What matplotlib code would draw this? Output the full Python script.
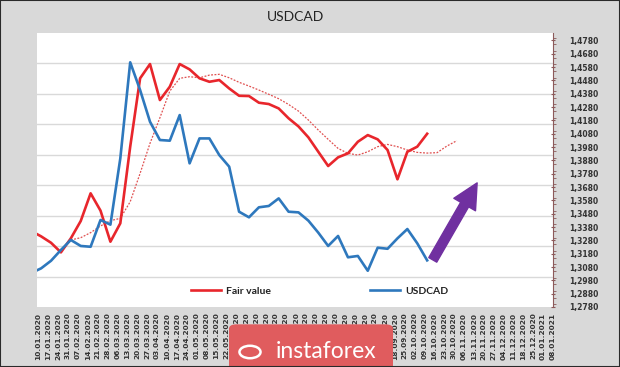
import numpy as np
import pandas as pd
import matplotlib
matplotlib.use("Agg")
import matplotlib.pyplot as plt
from matplotlib.patches import Rectangle, FancyBboxPatch, Circle
from matplotlib.ticker import FuncFormatter, MultipleLocator

# weekly points (the series are sampled a couple of days after the Friday labels)
dates = pd.date_range("2020-01-05", periods=44, freq="7D")

fair_value = [1.3350, 1.3310, 1.3262, 1.3190, 1.3295, 1.3425, 1.3633, 1.3503, 1.3270, 1.3408,
              1.3983, 1.4496, 1.4603, 1.4333, 1.4433, 1.4603, 1.4563, 1.4496, 1.4470, 1.4483,
              1.4420, 1.4365, 1.4363, 1.4313, 1.4303, 1.4270, 1.4196, 1.4135, 1.4053, 1.3945,
              1.3838, 1.3903, 1.3933, 1.4020, 1.4070, 1.4038, 1.3958, 1.3738, 1.3945, 1.3983,
              1.4080, np.nan, np.nan, np.nan]

usdcad = [1.3035, 1.3070, 1.3127, 1.3208, 1.3283, 1.3238, 1.3232, 1.3433, 1.3398, 1.3895,
          1.4616, 1.4408, 1.4170, 1.4033, 1.4028, 1.4220, 1.3858, 1.4045, 1.4045, 1.3920,
          1.3833, 1.3495, 1.3453, 1.3528, 1.3538, 1.3595, 1.3495, 1.3490, 1.3428, 1.3338,
          1.3238, 1.3313, 1.3153, 1.3163, 1.3052, 1.3225, 1.3217, 1.3295, 1.3365, 1.3258,
          1.3130, np.nan, np.nan, np.nan]

# dotted trend of the fair value
fair_trend = [np.nan, np.nan, np.nan, np.nan, 1.3283, 1.3300, 1.3338, 1.3388, 1.3428, 1.3445,
              1.3570, 1.3783, 1.4008, 1.4200, 1.4400, 1.4496, 1.4508, 1.4500, 1.4520, 1.4526,
              1.4500, 1.4466, 1.4438, 1.4408, 1.4376, 1.4343, 1.4300, 1.4250, 1.4183, 1.4108,
              1.4038, 1.3970, 1.3933, 1.3920, 1.3945, 1.3983, 1.4000, 1.3983, 1.3958, 1.3940,
              1.3935, 1.3938, 1.3988, 1.4028]

tick_dates = pd.date_range("2020-01-10", "2021-01-08", freq="7D")
tick_labels = [d.strftime("%d.%m.%Y") for d in tick_dates]

y_lo, y_hi = 1.2780, 1.4836

fig = plt.figure(figsize=(6.2, 3.67), dpi=100, facecolor="#d9d9d9")
ax = fig.add_axes([37/620, 1 - 307/367, 516/620, 274/367])
ax.set_facecolor("white")

# horizontal grid: 9 even bands of the plot area
for k in range(1, 9):
    ax.axhline(y_lo + k*(y_hi - y_lo)/9, color="#d9d9d9", lw=1, zorder=0)

ax.plot(dates, fair_trend, color="#e05050", lw=0.9, linestyle=(0, (1.5, 1.2)), zorder=2)
ax.plot(dates, fair_value, color="#e8262c", lw=1.9, label="Fair value", zorder=3)
ax.plot(dates, usdcad, color="#2e78bd", lw=1.9, label="USDCAD", zorder=3)

ax.set_xlim(pd.Timestamp("2020-01-09 02:00"), pd.Timestamp("2021-01-08"))
ax.set_ylim(y_lo, y_hi)

ax.set_xticks(tick_dates)
ax.set_xticklabels(tick_labels, rotation=90, fontsize=5.3, fontweight="bold",
                   color="#333333", va="top", ha="center")
ax.tick_params(axis="x", length=0, pad=4)

ax.yaxis.tick_right()
ax.set_yticks(np.arange(1.2780, 1.4781, 0.01))
ax.yaxis.set_minor_locator(MultipleLocator(0.005))
ax.yaxis.set_major_formatter(FuncFormatter(lambda v, p: ("%.4f" % v).replace(".", ",")))
ax.tick_params(axis="y", which="major", length=3, direction="inout", color="#8c5a5a",
               labelsize=5.5, labelcolor="#333333", pad=10)
ax.tick_params(axis="y", which="minor", length=2, direction="out", color="#8c5a5a")
for lab in ax.get_yticklabels():
    lab.set_fontweight("bold")

for s in ["top", "left", "bottom"]:
    ax.spines[s].set_visible(False)
ax.spines["right"].set_color("#8c5a5a")
ax.spines["right"].set_linewidth(0.8)

leg = ax.legend(loc="center", bbox_to_anchor=(0.548, 0.058), ncol=2, frameon=False,
                handlelength=2.9, handletextpad=0.5, columnspacing=9.5,
                prop={"family": "Lato", "weight": "bold", "size": 7.5})
for t in leg.get_texts():
    t.set_color("#222222")

fig.text(0.476, 0.954, "USDCAD", ha="center", va="center", fontsize=10,
         family="Lato", color="#222222")

# purple arrow
ax.annotate("", xy=(0.853, 0.453), xytext=(0.767, 0.172), xycoords="axes fraction",
            arrowprops=dict(arrowstyle="simple,head_length=1.5,head_width=1.5,tail_width=0.55",
                            mutation_scale=12, color="#7030a0", shrinkA=0, shrinkB=0),
            zorder=4)

# watermark box
fig.patches.append(FancyBboxPatch((229/620, -0.02), 164/620, 50/367,
                                  boxstyle="round,pad=0,rounding_size=0.012",
                                  transform=fig.transFigure, facecolor="#e05c5e",
                                  edgecolor="none", zorder=5))
fig.patches.append(Circle((250/620, 1 - 352/367), 0.017, transform=fig.transFigure,
                          facecolor="none", edgecolor="white", lw=1.8, zorder=6))
fig.text(326/620, 1 - 351/367, "instaforex", ha="center", va="center", fontsize=16.5,
         family="Lato", color="white", zorder=7)

# outer frame
fig.patches.append(Rectangle((0, 0), 1, 1, transform=fig.transFigure, facecolor="none",
                             edgecolor="#2a2a2a", lw=1.5, zorder=8))

fig.savefig("out.png", dpi=100, facecolor=fig.get_facecolor())
